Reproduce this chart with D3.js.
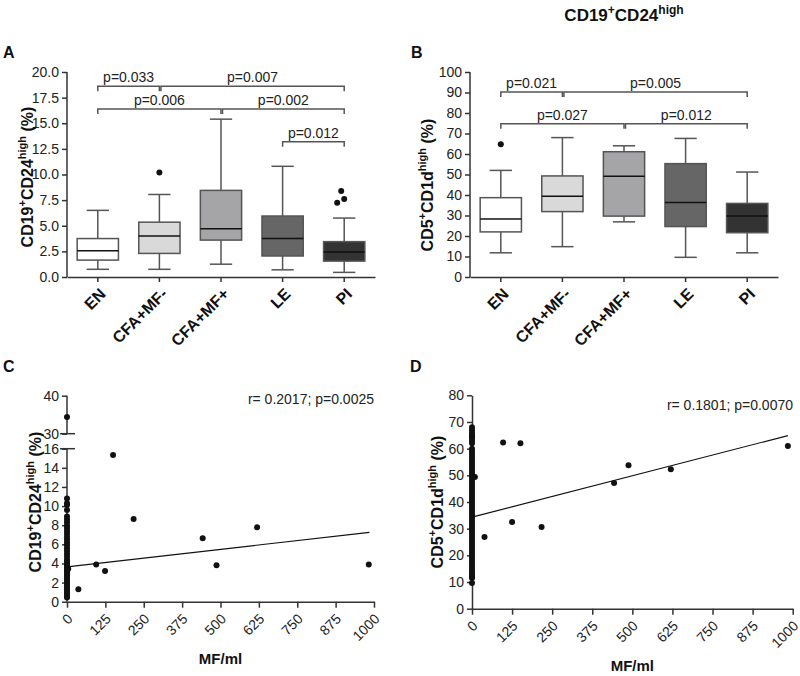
<!DOCTYPE html>
<html><head><meta charset="utf-8">
<script src="https://cdn.jsdelivr.net/npm/d3@7"></script>
<style>body{margin:0;background:#fff}svg{font-family:"Liberation Sans",Arial,sans-serif}</style>
</head><body><svg id="c" width="800" height="676"></svg>
<script>
// ---------- DATA ----------
const categories = ["EN","CFA+MF-","CFA+MF+","LE","PI"];
const boxFills = ["#ffffff","#d9d9d9","#a5a5a8","#666666","#333333"];

// Panel A: CD19+CD24high (%)
const aLow  = [0.75, 0.75, 1.25, 0.7, 0.45];
const aQ1   = [1.65, 2.3, 3.6, 2.05, 1.55];
const aMed  = [2.55, 4.0, 4.7, 3.75, 2.45];
const aQ3   = [3.75, 5.35, 8.45, 5.95, 3.45];
const aHigh = [6.5, 8.05, 15.4, 10.8, 5.75];
const aOutCat = ["CFA+MF-","PI","PI","PI"];
const aOutVal = [10.2, 7.25, 7.6, 8.4];
const aTicks = [0, 2.5, 5, 7.5, 10, 12.5, 15, 17.5, 20];
const aBrFrom = ["EN","CFA+MF-","EN","CFA+MF+","LE"];
const aBrTo   = ["CFA+MF-","PI","CFA+MF+","PI","PI"];
const aBrLvl  = [18.6, 18.6, 16.4, 16.4, 13.2];
const aBrLbl  = ["p=0.033","p=0.007","p=0.006","p=0.002","p=0.012"];

// Panel B: CD5+CD1dhigh (%)
const bLow  = [11.8, 14.8, 26.9, 9.6, 11.8];
const bQ1   = [22.0, 31.9, 29.7, 24.6, 21.6];
const bMed  = [28.3, 39.4, 49.2, 36.4, 29.7];
const bQ3   = [38.7, 49.3, 61.1, 55.3, 35.9];
const bHigh = [52.0, 68.0, 64.0, 67.6, 51.2];
const bOutCat = ["EN"];
const bOutVal = [64.7];
const bTicks = [0,10,20,30,40,50,60,70,80,90,100];
const bBrFrom = ["EN","CFA+MF-","EN","CFA+MF+"];
const bBrTo   = ["CFA+MF-","PI","CFA+MF+","PI"];
const bBrLvl  = [90.2, 90.2, 74.7, 74.7];
const bBrLbl  = ["p=0.021","p=0.005","p=0.027","p=0.012"];

// Panel C: MF/ml vs CD19+CD24high
const cMF  = [37, 95, 124, 150, 217, 442, 487, 619, 983, 4, 0];
const cVal = [1.3, 3.9, 3.2, 15.35, 8.65, 6.63, 3.8, 7.78, 3.9, 3.45, 34.4];
const cZeroVals = [0.45,0.6,0.8,1.0,1.2,1.4,1.6,1.8,2.0,2.2,2.4,2.6,2.8,3.0,3.2,3.4,3.6,3.8,4.0,4.2,4.4,4.7,5.0,5.3,5.6,5.9,6.2,6.5,6.8,7.1,7.4,7.7,8.0,8.3,8.6,8.9,9.6,10.1,10.3,10.8];
const cFit = [3.65, 7.25]; // at MF 0 and 985
const cFitX = [0, 985];
const cYTicksLow = [0,2,4,6,8,10,12,14,16];
const cYTicksHigh = [30,40];
const xTicksMF = [0,125,250,375,500,625,750,875,1000];
const cStat = "r= 0.2017; p=0.0025";

// Panel D: MF/ml vs CD5+CD1dhigh
const dMF  = [39, 97, 125, 151, 217, 443, 488, 620, 985, 9];
const dVal = [26.9, 62.3, 32.5, 62.0, 30.6, 47.1, 53.8, 52.3, 61.0, 49.4];
const dZeroVals = [9.6,11.5,12,12.5,13,14,15,16,17,18,19,20,21,22,23,24,25,26,27,28,29,30,31,32,33,34,35,36,37,38,39,40,41,42,43,44,45,46,47,48,49,50,51,52,53,54,55,56,57,58,59,60,62,63,64,64.5,65,66,67,68];
const dFit = [34.3, 64.9];
const dFitX = [0, 985];
const dYTicks = [0,10,20,30,40,50,60,70,80];
const dStat = "r= 0.1801; p=0.0070";

// ---------- DRAW ----------
const svg = d3.select("#c");
const AX = "#333";
const BX = "#555";

function ylabel(g, x, y, main1, sup1, main2, sup2) {
  const t = g.append("text").attr("transform", `translate(${x},${y}) rotate(-90)`)
    .attr("text-anchor","middle").attr("font-weight","bold").attr("font-size",16).attr("fill","#111");
  t.append("tspan").text(main1);
  t.append("tspan").attr("font-size",11).attr("dy",-7).text(sup1);
  t.append("tspan").attr("dy",7).text(main2);
  t.append("tspan").attr("font-size",11).attr("dy",-7).text(sup2);
  t.append("tspan").attr("dy",7).text(" (%)");
}

function boxPanel(opt) {
  const g = svg.append("g");
  const x = d3.scaleBand().domain(categories).range(opt.xr).padding(0);
  const y = d3.scaleLinear().domain(opt.yd).range(opt.yr);
  const bw = x.bandwidth()*0.67, cap = bw*0.27;
  const cx = c => x(c) + x.bandwidth()/2;
  const ya = g.append("g").attr("transform",`translate(${opt.xr[0]},0)`)
    .call(d3.axisLeft(y).tickValues(opt.ticks).tickFormat(opt.fmt).tickSize(5).tickSizeOuter(0));
  const xa = g.append("g").attr("transform",`translate(0,${opt.yr[0]})`)
    .call(d3.axisBottom(x).tickSize(5).tickSizeOuter(0).tickFormat(""));
  [ya,xa].forEach(a=>{a.select(".domain").attr("stroke",AX).attr("stroke-width",1.5);
    a.selectAll(".tick line").attr("stroke",AX).attr("stroke-width",1.5);
    a.selectAll(".tick text").attr("font-size",14).attr("fill","#222").attr("font-family","Liberation Sans, Arial");});
  ya.select(".domain").attr("d",`M0,${opt.yr[0]}V${opt.yr[1]}`);
  categories.forEach(c=>{
    g.append("text").attr("transform",`translate(${cx(c)+9},${opt.yr[0]+18}) rotate(-45)`)
      .attr("text-anchor","end").attr("font-weight","bold").attr("font-size",16).attr("fill","#111").text(c);
  });
  categories.forEach((c,i)=>{
    const X = cx(c);
    g.append("line").attr("x1",X).attr("x2",X).attr("y1",y(opt.low[i])).attr("y2",y(opt.q1[i])).attr("stroke",BX).attr("stroke-width",1.5);
    g.append("line").attr("x1",X).attr("x2",X).attr("y1",y(opt.q3[i])).attr("y2",y(opt.high[i])).attr("stroke",BX).attr("stroke-width",1.5);
    g.append("line").attr("x1",X-cap).attr("x2",X+cap).attr("y1",y(opt.low[i])).attr("y2",y(opt.low[i])).attr("stroke",BX).attr("stroke-width",1.5);
    g.append("line").attr("x1",X-cap).attr("x2",X+cap).attr("y1",y(opt.high[i])).attr("y2",y(opt.high[i])).attr("stroke",BX).attr("stroke-width",1.5);
    g.append("rect").attr("x",X-bw/2).attr("width",bw).attr("y",y(opt.q3[i])).attr("height",y(opt.q1[i])-y(opt.q3[i]))
      .attr("fill",boxFills[i]).attr("stroke",BX).attr("stroke-width",1.5);
    g.append("line").attr("x1",X-bw/2).attr("x2",X+bw/2).attr("y1",y(opt.med[i])).attr("y2",y(opt.med[i])).attr("stroke","#111").attr("stroke-width",1.5);
  });
  opt.outCat.forEach((c,i)=>{
    g.append("circle").attr("cx",cx(c)+(opt.jit[i]||0)).attr("cy",y(opt.outVal[i])).attr("r",3).attr("fill","#111");
  });
  opt.brFrom.forEach((f,i)=>{
    const x1 = cx(f)+(i>0 && opt.brFrom[i]===opt.brTo[i-1] ? 1.5:0), x2 = cx(opt.brTo[i]);
    const yy = y(opt.brLvl[i]);
    g.append("path").attr("d",`M${x1},${yy+5}V${yy}H${x2}V${yy+5}`).attr("fill","none").attr("stroke",BX).attr("stroke-width",1.5);
    g.append("text").attr("x",(x1+x2)/2).attr("y",yy-4).attr("text-anchor","middle").attr("font-size",14).attr("fill","#222").text(opt.brLbl[i]);
  });
  return g;
}

boxPanel({xr:[67,375], yd:[0,20], yr:[277,72], ticks:aTicks, fmt:d3.format(".1f"),
  low:aLow,q1:aQ1,med:aMed,q3:aQ3,high:aHigh,outCat:aOutCat,outVal:aOutVal,jit:[0,-7,0,-3],
  brFrom:aBrFrom,brTo:aBrTo,brLvl:aBrLvl,brLbl:aBrLbl});
boxPanel({xr:[470,778], yd:[0,100], yr:[277,72], ticks:bTicks, fmt:d3.format("d"),
  low:bLow,q1:bQ1,med:bMed,q3:bQ3,high:bHigh,outCat:bOutCat,outVal:bOutVal,jit:[0],
  brFrom:bBrFrom,brTo:bBrTo,brLvl:bBrLvl,brLbl:bBrLbl});

ylabel(svg, 33, 177, "CD19","+","CD24","high");
ylabel(svg, 433, 185, "CD5","+","CD1d","high");

function styleAxis(a){
  a.select(".domain").attr("stroke",AX).attr("stroke-width",1.5);
  a.selectAll(".tick line").attr("stroke",AX).attr("stroke-width",1.5);
  a.selectAll(".tick text").attr("font-size",14).attr("fill","#222").attr("font-family","Liberation Sans, Arial");
}
function xAxisMF(g, x, y0) {
  const xa = g.append("g").attr("transform",`translate(0,${y0})`)
    .call(d3.axisBottom(x).tickValues(xTicksMF).tickFormat(d3.format("d")).tickSize(6).tickSizeOuter(0));
  styleAxis(xa);
  xa.selectAll(".tick text").attr("text-anchor","end").attr("dy",0).attr("y",0)
    .attr("transform","translate(6,18) rotate(-45)");
  g.append("text").attr("x",(x.range()[0]+x.range()[1])/2).attr("y",y0+62).attr("text-anchor","middle")
    .attr("font-weight","bold").attr("font-size",15).attr("fill","#111").text("MF/ml");
}

// Panel C
(function(){
  const g = svg.append("g");
  const x = d3.scaleLinear().domain([0,1000]).range([67,374]);
  const yLo = d3.scaleLinear().domain([0,16]).range([601.7,448.7]);
  const yHi = d3.scaleLinear().domain([30,40]).range([433.7,395.7]);
  const yv = v => v>=30 ? yHi(v) : yLo(v);
  const a1 = g.append("g").attr("transform","translate(67,0)").call(d3.axisLeft(yLo).tickValues(cYTicksLow).tickSize(5).tickSizeOuter(0));
  const a2 = g.append("g").attr("transform","translate(67,0)").call(d3.axisLeft(yHi).tickValues(cYTicksHigh).tickSize(5).tickSizeOuter(0));
  styleAxis(a1); styleAxis(a2);
  a1.select(".domain").attr("d",`M0,${yLo(0)}V${yLo(16)}`);
  a2.select(".domain").attr("d",`M0,${yHi(30)}V${yHi(40)}`);
  g.append("line").attr("x1",60).attr("x2",75).attr("y1",yHi(30)).attr("y2",yHi(30)).attr("stroke",AX).attr("stroke-width",1.5);
  g.append("line").attr("x1",60).attr("x2",75).attr("y1",yLo(16)).attr("y2",yLo(16)).attr("stroke",AX).attr("stroke-width",1.5);
  xAxisMF(g, x, 601.7);
  cZeroVals.forEach(v=>g.append("circle").attr("cx",x(0)).attr("cy",yLo(v)).attr("r",3).attr("fill","#111"));
  cMF.forEach((m,i)=>g.append("circle").attr("cx",x(m)).attr("cy",yv(cVal[i])).attr("r",3).attr("fill","#111"));
  g.append("line").attr("x1",x(cFitX[0])).attr("x2",x(cFitX[1])).attr("y1",yLo(cFit[0])).attr("y2",yLo(cFit[1])).attr("stroke","#111").attr("stroke-width",1.2);
  g.append("text").attr("x",374).attr("y",404).attr("text-anchor","end").attr("font-size",14).attr("fill","#222").text(cStat);
  ylabel(g, 41, 502, "CD19","+","CD24","high");
})();

// Panel D
(function(){
  const g = svg.append("g");
  const x = d3.scaleLinear().domain([0,1000]).range([472,792.7]);
  const y = d3.scaleLinear().domain([0,80]).range([608.7,395.3]);
  const a1 = g.append("g").attr("transform","translate(472,0)").call(d3.axisLeft(y).tickValues(dYTicks).tickSize(5).tickSizeOuter(0));
  styleAxis(a1);
  xAxisMF(g, x, 608.7);
  dZeroVals.forEach(v=>g.append("circle").attr("cx",x(0)).attr("cy",y(v)).attr("r",3).attr("fill","#111"));
  dMF.forEach((m,i)=>g.append("circle").attr("cx",x(m)).attr("cy",y(dVal[i])).attr("r",3).attr("fill","#111"));
  g.append("line").attr("x1",x(dFitX[0])).attr("x2",x(dFitX[1])).attr("y1",y(dFit[0])).attr("y2",y(dFit[1])).attr("stroke","#111").attr("stroke-width",1.2);
  g.append("text").attr("x",793).attr("y",410).attr("text-anchor","end").attr("font-size",14).attr("fill","#222").text(dStat);
  ylabel(g, 443, 502, "CD5","+","CD1d","high");
})();

const tt = svg.append("text").attr("x",624).attr("y",21).attr("text-anchor","middle").attr("font-weight","bold").attr("font-size",17).attr("fill","#111");
tt.append("tspan").text("CD19");
tt.append("tspan").attr("font-size",12).attr("dy",-7).text("+");
tt.append("tspan").attr("dy",7).text("CD24");
tt.append("tspan").attr("font-size",12).attr("dy",-7).text("high");
[["A",3,58],["B",411,58],["C",3,372],["D",410,372]].forEach(([t,x,y])=>
  svg.append("text").attr("x",x).attr("y",y).attr("font-weight","bold").attr("font-size",16).attr("fill","#111").text(t));
</script></body></html>
